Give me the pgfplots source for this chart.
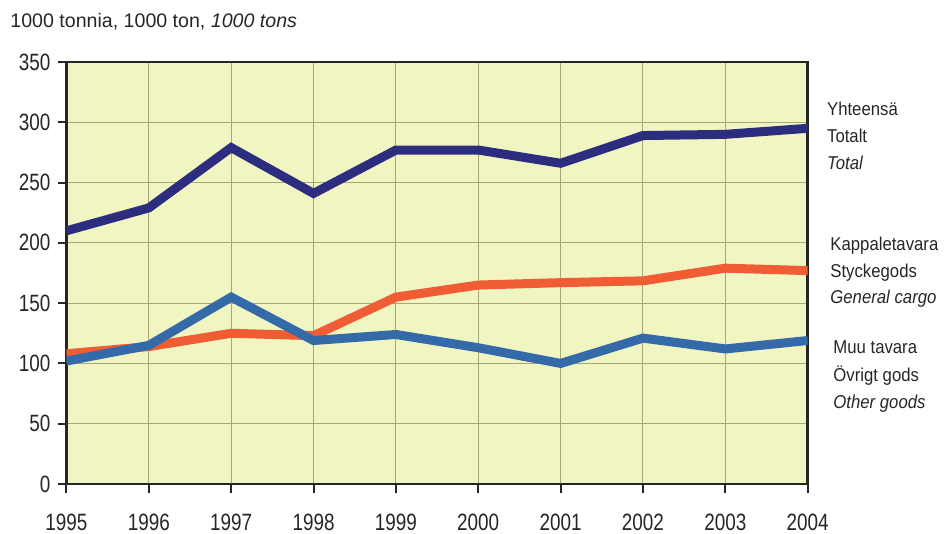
\documentclass[border=0pt]{standalone}
\usepackage{pgfplots}
\pgfplotsset{compat=1.18}
\usepackage{fontspec}
\setmainfont{Liberation Sans}
\newfontfamily\ticksfont{Liberation Sans}[FakeStretch=0.8]
\newfontfamily\sidefont{Liberation Sans}[FakeStretch=0.9]
\definecolor{bgyellow}{RGB}{241,245,194}
\definecolor{gridc}{RGB}{168,168,118}
\definecolor{navy}{RGB}{45,45,128}
\definecolor{cargo}{RGB}{240,92,52}
\definecolor{other}{RGB}{52,106,168}

\begin{document}
\begin{tikzpicture}
\useasboundingbox (-33.25pt,-25pt) rectangle (439.75pt,242pt);
\begin{axis}[
    at={(0pt,0pt)}, anchor=south west,
    scale only axis,
    width=370.6pt, height=211pt,
    xmin=1995, xmax=2004,
    ymin=0, ymax=350,
    xtick={1995,...,2004},
    ytick={0,50,...,350},
    /pgf/number format/assume math mode=true,
    x tick label style={/pgf/number format/1000 sep={}, yshift=-7pt},
    tick label style={font=\ticksfont\fontsize{11.8}{12}\selectfont, text=black!85},
    tick pos=left,
    tick align=outside,
    major tick length=4.5pt,
    tick style={black!85, line width=1pt},
    axis line style={black!85, line width=1.2pt},
    grid=major,
    grid style={gridc, line width=0.5pt},
    axis background/.style={fill=bgyellow},
    every axis plot/.append style={line width=4.5pt, no marks},
]
\addplot[cargo] coordinates {
    (1995,108) (1996,114) (1997,125) (1998,123) (1999,155)
    (2000,165) (2001,167) (2002,168.5) (2003,179) (2004,177)
};
\addplot[other] coordinates {
    (1995,102) (1996,115) (1997,155) (1998,119) (1999,124)
    (2000,113) (2001,100) (2002,121) (2003,112) (2004,119)
};
\addplot[navy] coordinates {
    (1995,210) (1996,229) (1997,279) (1998,241) (1999,277)
    (2000,277) (2001,266) (2002,289) (2003,290) (2004,295)
};
\end{axis}

% heading and series labels
\begin{scope}[every node/.style={inner sep=0pt, anchor=base west, text=black!85}]
\node[font=\fontsize{9.8}{10}\selectfont] at (-28.25pt,228pt) {1000 tonnia, 1000 ton, \textit{1000 tons}};
\node[font=\sidefont\fontsize{9.3}{10}\selectfont] at (380.1pt,184pt) {Yhteensä};
\node[font=\sidefont\fontsize{9.3}{10}\selectfont] at (380.1pt,170.5pt) {Totalt};
\node[font=\sidefont\fontsize{9.3}{10}\selectfont\itshape] at (380.1pt,157pt) {Total};
\node[font=\sidefont\fontsize{9.3}{10}\selectfont] at (381.75pt,116.5pt) {Kappaletavara};
\node[font=\sidefont\fontsize{9.3}{10}\selectfont] at (381.75pt,103pt) {Styckegods};
\node[font=\sidefont\fontsize{9.3}{10}\selectfont\itshape] at (381.75pt,90pt) {General cargo};
\node[font=\sidefont\fontsize{9.3}{10}\selectfont] at (383.25pt,65pt) {Muu tavara};
\node[font=\sidefont\fontsize{9.3}{10}\selectfont] at (383.25pt,51pt) {Övrigt gods};
\node[font=\sidefont\fontsize{9.3}{10}\selectfont\itshape] at (383.25pt,37.5pt) {Other goods};
\end{scope}
\end{tikzpicture}
\end{document}
